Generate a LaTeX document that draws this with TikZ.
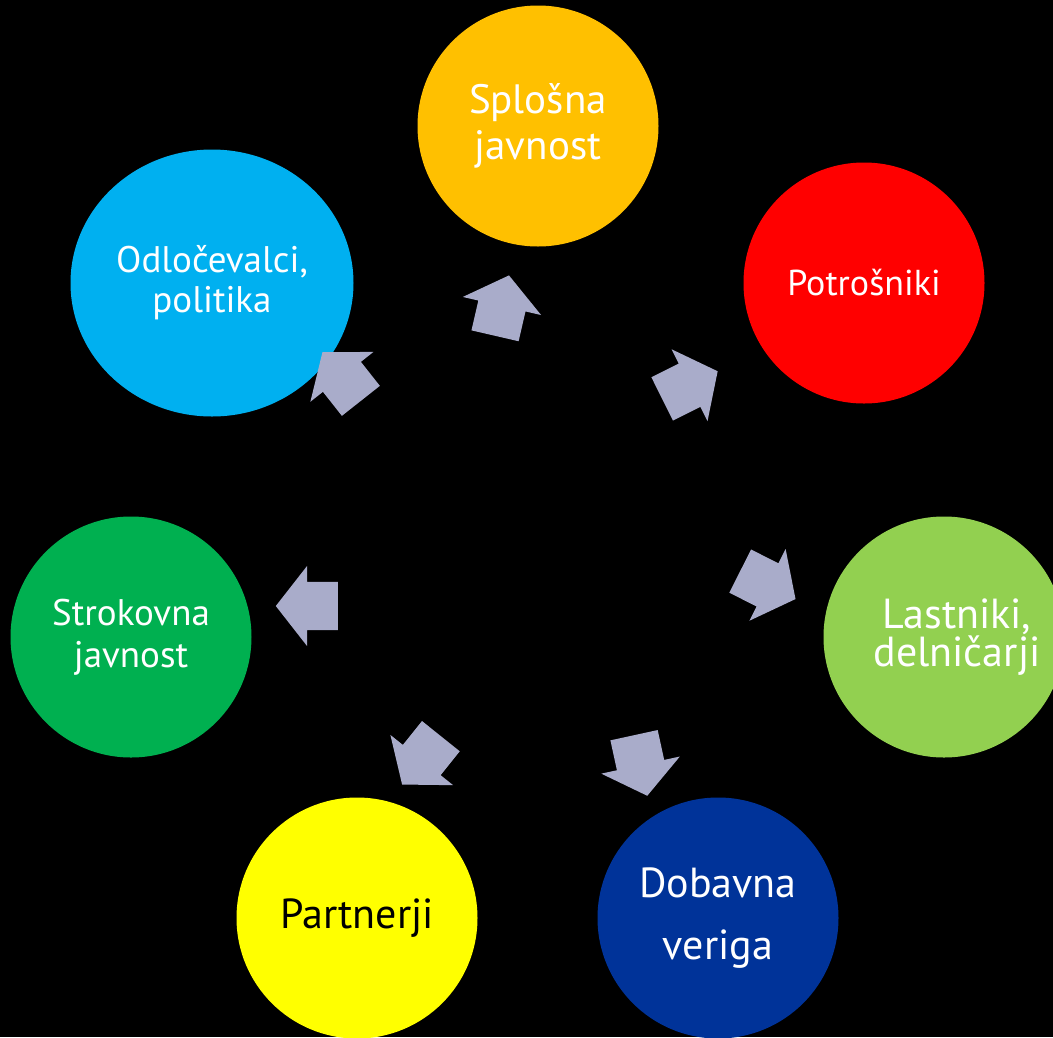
\documentclass[tikz,border=0pt]{standalone}
\usepackage{fontspec}
\setmainfont{PT Sans}
\usetikzlibrary{positioning,shapes.geometric,shapes.arrows}
\definecolor{splosnaC}{RGB}{255,192,0}
\definecolor{potrosC}{RGB}{255,0,0}
\definecolor{lastnikC}{RGB}{146,208,80}
\definecolor{dobavnaC}{RGB}{0,51,153}
\definecolor{partnerC}{RGB}{255,255,0}
\definecolor{strokC}{RGB}{0,176,80}
\definecolor{odlocC}{RGB}{0,176,240}
\definecolor{arrowC}{RGB}{169,172,202}
\begin{document}
\begin{tikzpicture}[x=1pt, y=1pt]
	\tikzstyle{group}
	  =[circle, minimum size=241pt, inner sep=0pt, 
	  align=center, text=white]
	\tikzstyle{grouptext}
	  =[inner sep=0pt, align=center, text=white]
	\tikzstyle{flow}
	  =[single arrow, fill=arrowC, inner sep=0pt, anchor=tail,
	  minimum height=62pt, minimum width=80pt,
	  single arrow head extend=16pt, single arrow tip angle=104]

	\fill[black] (0,0) rectangle (1053,-1037);
	\useasboundingbox (0,0) rectangle (1053,-1037);

	% stakeholder groups
	\node[group, fill=splosnaC, font=\fontsize{41}{46}\selectfont]
	  (splosna) at (538,-126) {Splošna\\javnost};
	\node[group, fill=potrosC, font=\fontsize{36}{44}\selectfont]
	  (potrosniki) at (864,-283) {Potrošniki};
	\node[group, fill=lastnikC] (lastniki) at (944,-637) {};
	\node[grouptext, font=\fontsize{42}{38}\selectfont]
	  (lastnikitext) at ([xshift=13pt]lastniki.center)
	  {Lastniki,\\delničarji};
	\node[group, fill=dobavnaC, font=\fontsize{42}{62}\selectfont]
	  (dobavna) at (718,-918) {Dobavna\\veriga};
	\node[group, fill=partnerC, text=black, font=\fontsize{42}{46}\selectfont]
	  (partnerji) at (357,-918) {Partnerji};
	\node[group, fill=strokC, font=\fontsize{37}{42}\selectfont]
	  (strokovna) at (131,-637) {Strokovna\\javnost};
	\node[group, ellipse, minimum width=283pt, minimum height=267pt,
	  fill=odlocC, font=\fontsize{37}{40}\selectfont]
	  (odlocevalci) at (212,-283) {Odločevalci,\\politika};

	% arrows out of the middle
	\node[flow, rotate=77] (tosplosna) at (495,-336) {\rule{0pt}{48pt}};
	\node[flow, rotate=26.5] (topotrosniki) at (662,-399) {\rule{0pt}{48pt}};
	\node[flow, rotate=-26.8] (tolastniki) at (740,-571) {\rule{0pt}{48pt}};
	\node[flow, rotate=-77.7] (todobavna) at (634,-735) {\rule{0pt}{48pt}};
	\node[flow, rotate=231.3] (topartnerji) at (441,-736) {\rule{0pt}{48pt}};
	\node[flow, rotate=180] (tostrokovna) at (338,-606) {\rule{0pt}{48pt}};
	\node[flow, rotate=128.3] (toodlocevalci) at (361,-401) {\rule{0pt}{48pt}};
\end{tikzpicture}
\end{document}
